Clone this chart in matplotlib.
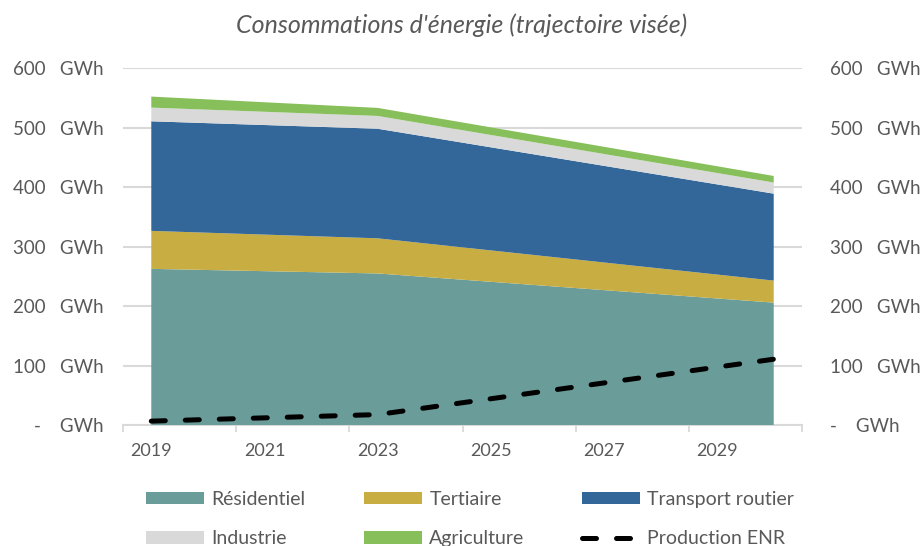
import matplotlib
matplotlib.use("Agg")
import matplotlib.pyplot as plt
from matplotlib.patches import Patch
from matplotlib.lines import Line2D
import numpy as np

plt.rcParams['font.family'] = ['Lato', 'DejaVu Sans']

years = [2019, 2023, 2030]
residentiel = [262.7, 255.0, 206.0]
tertiaire = [63.8, 59.0, 37.0]
transport = [184.0, 184.0, 146.0]
industrie = [23.0, 21.5, 18.7]
agriculture = [18.5, 13.5, 11.0]
production_enr = [7.0, 18.0, 111.0]

series_names = ["Résidentiel", "Tertiaire", "Transport routier", "Industrie", "Agriculture"]
series_colors = ["#6A9C99", "#C8AD42", "#336699", "#D9D9D9", "#87BF5A"]
enr_name = "Production ENR"

year_labels = [2019, 2021, 2023, 2025, 2027, 2029]
y_values = [0, 100, 200, 300, 400, 500, 600]
left_labels = ["-    GWh" if v == 0 else f"{v}   GWh" for v in y_values]
right_labels = ["-    GWh" if v == 0 else f"{v}   GWh" for v in y_values]

text_color = "#595959"
grid_color = "#D9D9D9"

fig = plt.figure(figsize=(9.24, 5.46), dpi=100)
ax = fig.add_axes([123 / 924, 1 - 425.3 / 546, (802 - 123) / 924, (425.3 - 68) / 546])

ax.stackplot(years, residentiel, tertiaire, transport, industrie, agriculture,
             colors=series_colors, linewidth=0, zorder=2)
enr_line, = ax.plot(years, production_enr, color="black", lw=3.6,
                    solid_capstyle="round", dash_capstyle="round", zorder=4)
enr_line.set_dashes((2.8, 4.0))

ax.set_xlim(2018.5, 2030.5)
ax.set_ylim(0, 600)
ax.set_xticks(year_labels)
ax.set_xticklabels([str(y) for y in year_labels])
ax.set_xticks(np.arange(2018.5, 2031, 2), minor=True)
ax.tick_params(axis="x", which="major", length=0, pad=12.5, labelsize=13, labelcolor=text_color)
ax.tick_params(axis="x", which="minor", length=5, width=1.3, color=grid_color)

ax.set_yticks(y_values)
ax.set_yticklabels(left_labels)
ax.tick_params(axis="y", length=0, pad=13.7, labelsize=13.5, labelcolor=text_color)
ax.grid(axis="y", color=grid_color, lw=1.5, zorder=0)
ax.set_axisbelow(True)
for side in ["top", "right", "left"]:
    ax.spines[side].set_visible(False)
ax.spines["bottom"].set_color(grid_color)
ax.spines["bottom"].set_linewidth(1.5)
ax.spines["bottom"].set_zorder(1)

ax2 = ax.twinx()
ax2.set_ylim(0, 600)
ax2.set_yticks(y_values)
ax2.set_yticklabels(right_labels, ha="left")
ax2.tick_params(axis="y", length=0, pad=20, labelsize=13.5, labelcolor=text_color)
for side in ["top", "right", "left", "bottom"]:
    ax2.spines[side].set_visible(False)

fig.text(0.5, 1 - 25 / 546, "Consommations d'énergie (trajectoire visée)",
         ha="center", va="center", fontsize=18, style="italic", color=text_color)

# Legend: three columns of two entries each
handles = [Patch(facecolor=c, edgecolor="none") for c in series_colors]
enr_handle = Line2D([0], [0], color="black", lw=3.6, dash_capstyle="round")
enr_handle.set_dashes((2.8, 4.0))
columns = [
    ([handles[0], handles[3]], [series_names[0], series_names[3]], 146),
    ([handles[1], handles[4]], [series_names[1], series_names[4]], 364),
    ([handles[2], enr_handle], [series_names[2], enr_name], 582),
]
for hs, labels, x0 in columns:
    fig.legend(hs, labels, loc="upper left", bbox_to_anchor=(x0 / 924, 1 - 491 / 546),
               frameon=False, fontsize=14, labelcolor=text_color,
               handlelength=3.0, handleheight=0.6, handletextpad=0.36,
               labelspacing=1.15, borderpad=0, borderaxespad=0)

fig.savefig("out.png", dpi=100)
